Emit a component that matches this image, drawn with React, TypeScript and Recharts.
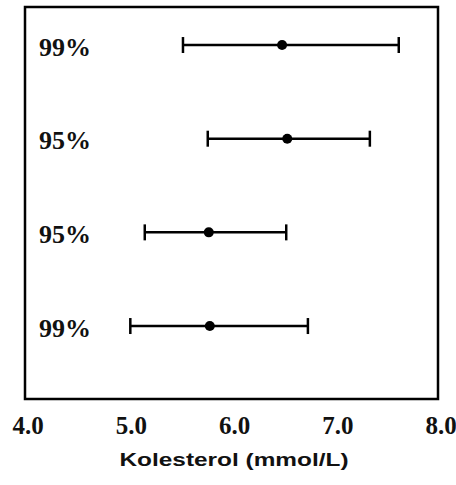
import React from 'react';
import { ScatterChart, Scatter, XAxis, YAxis, ErrorBar, ReferenceArea, Label } from 'recharts';

// Confidence level labels (top to bottom)
const levels = ['99%', '95%', '95%', '99%'];
// Row positions (top to bottom)
const rowPos = [4, 3, 2, 1];
// Mean cholesterol (mmol/L)
const means = [6.49, 6.54, 5.78, 5.79];
// Lower CI bound
const lows = [5.53, 5.77, 5.16, 5.02];
// Upper CI bound
const highs = [7.62, 7.34, 6.53, 6.74];
// X axis ticks
const xTicks = [4, 5, 6, 7, 8];
const xDomain: [number, number] = [4, 8];
const yDomain: [number, number] = [0.221, 4.406];
const axisTitle = 'Kolesterol (mmol/L)';

const data = means.map((m, i) => ({
  x: m,
  y: rowPos[i],
  label: levels[i],
  err: [m - lows[i], highs[i] - m],
}));

const SERIF = '"Liberation Serif", "Times New Roman", serif';
const SANS = '"Liberation Sans", Arial, sans-serif';

const YTick = (props: any) => {
  const { x, y, payload } = props;
  const idx = rowPos.indexOf(Number(payload && payload.value));
  const txt = idx >= 0 ? levels[idx] : '';
  return (
    <text x={x + 14} y={y + 10.5} textAnchor="start" fontFamily={SERIF} fontWeight="bold" fontSize={26} fill="#111">
      {txt}
    </text>
  );
};

const XTick = (props: any) => {
  const { x, y, payload } = props;
  return (
    <text x={x + 3} y={y + 35} textAnchor="middle" fontFamily={SERIF} fontWeight="bold" fontSize={25} fill="#111">
      {Number(payload.value).toFixed(1)}
    </text>
  );
};

const TitleLabel = (props: any) => {
  const vb = props.viewBox || {};
  const cx = vb.x + vb.width / 2 + 2.5;
  return (
    <text
      x={cx}
      y={vb.y + 67}
      textAnchor="middle"
      fontFamily={SANS}
      fontWeight="bold"
      fontSize={18}
      fill="#111"
      textLength={229}
      lengthAdjust="spacingAndGlyphs"
    >
      {axisTitle}
    </text>
  );
};

const Dot = (props: any) => {
  const { cx, cy } = props;
  return <circle cx={cx} cy={cy} r={5} fill="#000" />;
};

export default function App() {
  return (
    <div style={{ position: 'absolute', left: 0, top: 0, background: '#fff' }}>
      <ScatterChart width={456} height={485} margin={{ top: 7, right: 18, bottom: 6, left: 24 }}>
        <XAxis
          type="number"
          dataKey="x"
          domain={xDomain}
          ticks={xTicks}
          axisLine={false}
          tickLine={false}
          tickSize={0}
          tickMargin={0}
          tick={<XTick />}
          height={80}
          interval={0}
          allowDataOverflow
        >
          <Label content={<TitleLabel />} />
        </XAxis>
        <YAxis
          type="number"
          dataKey="y"
          domain={yDomain}
          ticks={rowPos}
          width={1}
          axisLine={false}
          tickLine={false}
          tickSize={0}
          tickMargin={0}
          tick={<YTick />}
          interval={0}
          allowDataOverflow
        />
        <ReferenceArea
          x1={xDomain[0]}
          x2={xDomain[1]}
          y1={yDomain[0]}
          y2={yDomain[1]}
          fill="none"
          fillOpacity={0}
          stroke="#000"
          strokeWidth={2.5}
          ifOverflow="visible"
        />
        <Scatter data={data} shape={<Dot />} isAnimationActive={false}>
          <ErrorBar dataKey="err" direction="x" width={8} stroke="#000" strokeWidth={2.5} isAnimationActive={false} />
        </Scatter>
      </ScatterChart>
    </div>
  );
}
